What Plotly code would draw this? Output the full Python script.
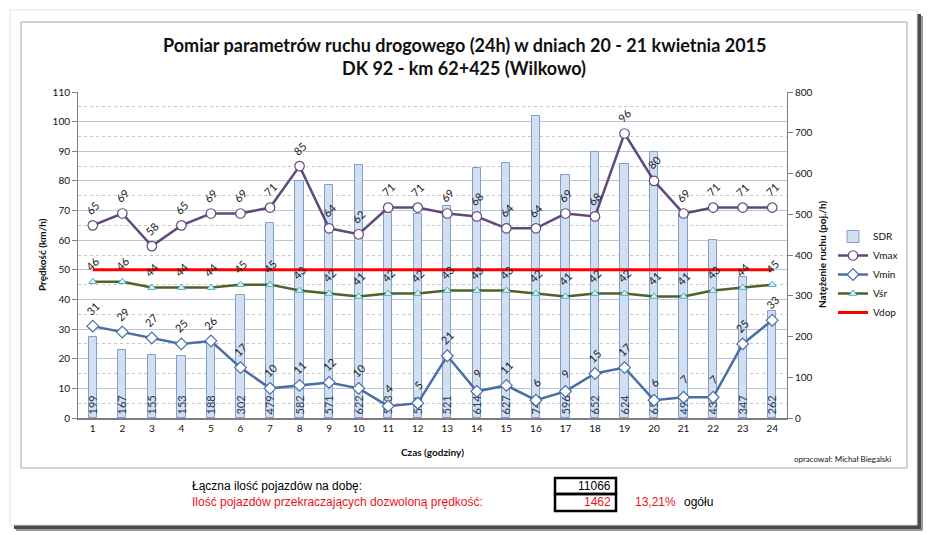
import plotly.graph_objects as go

hours = list(range(1, 25))
sdr = [199, 167, 155, 153, 188, 302, 479, 582, 571, 622, 503, 501, 521, 614, 627, 742, 596, 652, 624, 653, 498, 438, 347, 262]
vmax = [65, 69, 58, 65, 69, 69, 71, 85, 64, 62, 71, 71, 69, 68, 64, 64, 69, 68, 96, 80, 69, 71, 71, 71]
vmin = [31, 29, 27, 25, 26, 17, 10, 11, 12, 10, 4, 5, 21, 9, 11, 6, 9, 15, 17, 6, 7, 7, 25, 33]
vsr = [46, 46, 44, 44, 44, 45, 45, 43, 42, 41, 42, 42, 43, 43, 43, 42, 41, 42, 42, 41, 41, 43, 44, 45]
vdop = [50] * 24
left_ticks = list(range(0, 111, 10))
right_ticks = list(range(0, 801, 100))

W, H = 928, 535
L, R, T, B = 78, 141, 92, 117
PW, PH = W - L - R, H - T - B


def px(x):
    return (x - L) / PW


def py(y):
    return (H - B - y) / PH


FONT = "Lato"
fig = go.Figure()

fig.add_trace(go.Bar(
    x=hours, y=sdr, name="SDR", yaxis="y", width=0.28,
    marker=dict(color="#d2dff0", line=dict(color="#7f9fcf", width=1)),
    text=[str(v) for v in sdr], textposition="inside", insidetextanchor="start",
    textangle=-90, constraintext="none",
    textfont=dict(family=FONT, size=11, color="#2a3a50"),
))
fig.add_trace(go.Scatter(
    x=hours, y=vmax, name="Vmax", yaxis="y2", mode="lines+markers",
    line=dict(color="#604a7b", width=2.5),
    marker=dict(symbol="circle", size=9.5, color="white", line=dict(color="#604a7b", width=1.2)),
))
fig.add_trace(go.Scatter(
    x=hours, y=vmin, name="Vmin", yaxis="y2", mode="lines+markers",
    line=dict(color="#4a6fa5", width=2.5),
    marker=dict(symbol="diamond", size=9, color="white", line=dict(color="#4a6fa5", width=1.2)),
))
fig.add_trace(go.Scatter(
    x=hours, y=vsr, name="Vśr", yaxis="y2", mode="lines+markers",
    line=dict(color="#4f6228", width=2.5),
    marker=dict(symbol="triangle-up", size=7, color="#dff3f3", line=dict(color="#4bacc6", width=1)),
))
fig.add_trace(go.Scatter(
    x=hours, y=vdop, name="Vdop", yaxis="y2", mode="lines",
    line=dict(color="#ff0000", width=3),
))

ann = []
for series in (vmax, vmin, vsr):
    for h, v in zip(hours, series):
        ann.append(dict(x=h, y=v, xref="x", yref="y2", text=str(v), showarrow=False,
                        xanchor="center", yanchor="middle",
                        textangle=-45, yshift=18, font=dict(family=FONT, size=11, color="#222")))


def note(x, y, text, size, color="#111", family=FONT, xanchor="center", angle=0):
    ann.append(dict(x=px(x), y=py(y), xref="paper", yref="paper", showarrow=False,
                    xanchor=xanchor, yanchor="middle", textangle=angle, text=text,
                    font=dict(family=family, size=size, color=color)))


note(464, 45, "<b>Pomiar parametrów ruchu drogowego (24h) w dniach 20 - 21 kwietnia 2015</b>", 18)
note(464, 68, "<b>DK 92 - km 62+425 (Wilkowo)</b>", 18)
note(42, 255, "<b>Prędkość (km/h)</b>", 10, angle=-90)
note(822, 255, "<b>Natężenie ruchu (poj./h)</b>", 10, angle=-90)
note(432, 452, "<b>Czas (godziny)</b>", 10)
note(893, 459, "opracował: Michał Biegalski", 8, xanchor="right")

BF = "Liberation Sans"
RED = "#e8141c"
note(190, 486, "Łączna ilość pojazdów na dobę:", 12, "#000", BF, "left")
note(190, 502, "Ilość pojazdów przekraczających dozwoloną prędkość:", 12, RED, BF, "left")
note(613, 486, "11066", 12, "#000", BF, "right")
note(613, 502, "1462", 12, RED, BF, "right")
note(633, 502, "13,21%", 12, RED, BF, "left")
note(682, 502, "ogółu", 12, "#000", BF, "left")

shapes = [
    dict(type="rect", xref="paper", yref="paper", x0=px(16), x1=px(923), y0=py(16), y1=py(531),
         fillcolor="#9a9a9a", line=dict(width=0), layer="below"),
    dict(type="rect", xref="paper", yref="paper", x0=px(14), x1=px(921), y0=py(14), y1=py(529),
         fillcolor="#4a4a4a", line=dict(width=0), layer="below"),
    dict(type="rect", xref="paper", yref="paper", x0=px(10), x1=px(917), y0=py(10), y1=py(525),
         fillcolor="white", line=dict(color="#e2e2e2", width=1), layer="below"),
    dict(type="rect", xref="paper", yref="paper", x0=px(21), x1=px(907), y0=py(22), y1=py(468),
         fillcolor="white", line=dict(color="#a6a6a6", width=1), layer="below"),
    dict(type="rect", xref="paper", yref="paper", x0=px(555), x1=px(616), y0=py(478), y1=py(494),
         line=dict(color="#000", width=2.5)),
    dict(type="rect", xref="paper", yref="paper", x0=px(555), x1=px(616), y0=py(494), y1=py(511),
         line=dict(color="#000", width=2.5)),
]

fig.update_layout(
    width=W, height=H, margin=dict(l=L, r=R, t=T, b=B),
    paper_bgcolor="white", plot_bgcolor="rgba(0,0,0,0)",
    showlegend=True, bargap=0,
    legend=dict(x=px(833), y=py(222), xanchor="left", yanchor="top",
                font=dict(family=FONT, size=10, color="#111"), bgcolor="rgba(0,0,0,0)",
                tracegroupgap=0, itemwidth=30),
    xaxis=dict(range=[0.5, 24.5], tickmode="array", tickvals=hours, ticktext=[str(h) for h in hours],
               showgrid=False, zeroline=False, showline=True, linecolor="#7f7f7f", linewidth=2,
               ticks="", tickfont=dict(family=FONT, size=10, color="#111")),
    yaxis=dict(range=[0, 800], side="right", tickmode="array", tickvals=right_ticks,
               showgrid=False, zeroline=False, showline=True, linecolor="#7f7f7f", linewidth=1,
               ticks="outside", ticklen=5, tickcolor="#7f7f7f",
               tickfont=dict(family=FONT, size=10, color="#111")),
    yaxis2=dict(range=[0, 110], side="left", overlaying="y", tickmode="array", tickvals=left_ticks,
                showgrid=True, gridcolor="#b9c6da", gridwidth=1, zeroline=False,
                showline=True, linecolor="#7f7f7f", linewidth=1,
                ticks="outside", ticklen=5, tickcolor="#7f7f7f",
                minor=dict(dtick=5, tick0=0, showgrid=True, gridcolor="#c8c8c8", griddash="dot", ticks=""),
                tickfont=dict(family=FONT, size=10, color="#111")),
    annotations=ann, shapes=shapes,
)

fig.write_html("out.html", config={"displayModeBar": False},
               post_script="document.body.style.margin='0px';")
